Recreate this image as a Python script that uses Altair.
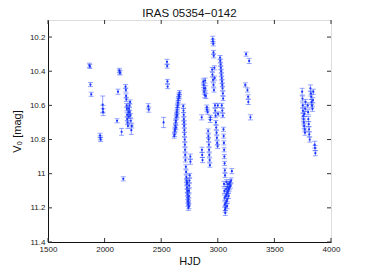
import altair as alt
import pandas as pd

hjd = [
    1866, 1870, 1875, 1882,
    1960, 1962, 1965, 1983, 1985, 1987,
    2110, 2118, 2130, 2133, 2136, 2150, 2165,
    2185, 2188, 2190, 2192, 2195, 2197, 2199, 2200, 2203, 2206,
    2210, 2213, 2216, 2220, 2222, 2225, 2228, 2232, 2236, 2240,
    2386, 2390, 2521, 2551, 2553, 2555, 2557,
    2615, 2618, 2620, 2622, 2625, 2628, 2630, 2633, 2636, 2638, 2641,
    2643, 2646, 2648, 2650, 2653, 2656, 2659, 2662, 2660, 2640, 2630,
    2695, 2697, 2699, 2700, 2702, 2703, 2705, 2706, 2708, 2709, 2711,
    2712, 2714, 2718, 2720, 2722, 2724, 2726, 2728, 2730, 2732, 2734,
    2736, 2738, 2740, 2742, 2744, 2746, 2748, 2750, 2752, 2735, 2729,
    2741, 2745, 2757, 2758,
    2858, 2860, 2862, 2865, 2872, 2875, 2878, 2880, 2884, 2888, 2890,
    2895, 2903, 2905, 2910, 2915, 2917, 2919, 2921, 2923, 2925, 2928,
    2930, 2933, 2935,
    2955, 2957, 2960, 2962, 2964, 2950, 2953, 2958, 2962, 2966, 2970,
    2972, 2975, 2977, 2980, 2983, 2986, 2989, 2992, 2995, 2998, 3000, 3003,
    3020, 3022, 3025, 3027, 3030, 3032, 3035, 3037, 3040, 3042, 3045,
    3047, 3035, 3040, 3044, 3050, 3052, 3054, 3056, 3058, 3060, 3062, 3064,
    3055, 3058, 3060, 3062, 3064, 3066, 3068, 3070, 3072, 3074, 3076,
    3078, 3080, 3082, 3084, 3086, 3088, 3090, 3092, 3095, 3098, 3100,
    3104, 3108, 3112, 3118, 3124,
    3243, 3250, 3262, 3268, 3270, 3277, 3288,
    3745, 3748, 3750, 3752, 3755, 3758, 3760, 3763, 3765, 3768, 3770,
    3772, 3775, 3795, 3798, 3800, 3803, 3806, 3808, 3812, 3818, 3822,
    3825, 3828, 3832, 3836, 3840, 3844, 3856, 3859, 3862,
]

mag = [
    10.365, 10.372, 10.478, 10.535,
    10.775, 10.79, 10.80, 10.595, 10.62, 10.64,
    10.69, 10.52, 10.395, 10.405, 10.41, 10.755, 11.03,
    10.49, 10.51, 10.545, 10.565, 10.60, 10.62, 10.655, 10.68, 10.70, 10.72,
    10.64, 10.665, 10.62, 10.60, 10.64, 10.58, 10.66, 10.69, 10.745, 10.72,
    10.605, 10.625, 10.70, 10.345, 10.37, 10.46, 10.49,
    10.78, 10.77, 10.75, 10.74, 10.72, 10.70, 10.69, 10.67, 10.655, 10.64, 10.625,
    10.61, 10.60, 10.585, 10.57, 10.56, 10.545, 10.535, 10.525, 10.55, 10.66, 10.73,
    10.605, 10.63, 10.655, 10.68, 10.70, 10.72, 10.745, 10.77, 10.80, 10.83, 10.86,
    10.89, 10.92, 10.96, 10.99, 11.02, 11.04, 11.06, 11.08, 11.10, 11.12, 11.14,
    11.16, 11.18, 11.20, 11.17, 11.13, 11.10, 11.07, 11.04, 11.01, 11.10, 11.05,
    11.15, 11.19, 10.90, 10.93,
    10.67, 10.86, 10.89, 10.92, 10.46, 10.48, 10.50, 10.52, 10.54, 10.455, 10.50,
    10.545, 10.61, 10.625, 10.64, 10.75, 10.78, 10.80, 10.83, 10.86, 10.89, 10.92,
    10.95, 10.685, 10.67,
    10.21, 10.225, 10.24, 10.29, 10.31, 10.39, 10.42, 10.45, 10.48, 10.51, 10.38,
    10.44, 10.60, 10.63, 10.66, 10.70, 10.73, 10.76, 10.79, 10.82, 10.84, 10.60, 10.65,
    10.32, 10.34, 10.36, 10.38, 10.40, 10.42, 10.44, 10.46, 10.48, 10.50, 10.53,
    10.56, 10.60, 10.63, 10.66, 10.74, 10.78, 10.82, 10.86, 10.90, 10.94, 10.98, 11.01,
    11.06, 11.10, 11.14, 11.18, 11.21, 11.23, 11.20, 11.17, 11.13, 11.09, 11.05,
    11.12, 11.16, 11.19, 11.15, 11.11, 11.08, 11.06, 11.10, 11.13, 11.09, 11.06,
    11.08, 11.05, 11.07, 11.04, 10.985,
    10.48, 10.30, 10.51, 10.55, 10.58, 10.34, 10.67,
    10.52, 10.56, 10.60, 10.63, 10.66, 10.68, 10.70, 10.72, 10.65, 10.74, 10.76,
    10.62, 10.58, 10.60, 10.64, 10.68, 10.71, 10.74, 10.77, 10.80, 10.50, 10.53,
    10.55, 10.58, 10.60, 10.62, 10.57, 10.52, 10.83, 10.85, 10.88,
]

err = [
    0.012, 0.012, 0.012, 0.012,
    0.012, 0.012, 0.012, 0.05, 0.02, 0.02,
    0.012, 0.015, 0.012, 0.012, 0.012, 0.02, 0.012,
    0.012, 0.012, 0.012, 0.012, 0.012, 0.012, 0.012, 0.012, 0.012, 0.015,
    0.012, 0.012, 0.012, 0.012, 0.012, 0.012, 0.012, 0.012, 0.025, 0.012,
    0.015, 0.015, 0.03, 0.015, 0.012, 0.012, 0.012,
    0.012, 0.012, 0.012, 0.012, 0.012, 0.012, 0.012, 0.012, 0.012, 0.012, 0.012,
    0.012, 0.012, 0.012, 0.012, 0.012, 0.012, 0.012, 0.012, 0.012, 0.012, 0.012,
    0.012, 0.012, 0.012, 0.012, 0.012, 0.012, 0.012, 0.012, 0.012, 0.012, 0.012,
    0.012, 0.012, 0.012, 0.012, 0.012, 0.012, 0.012, 0.012, 0.012, 0.012, 0.012,
    0.012, 0.012, 0.015, 0.012, 0.012, 0.012, 0.012, 0.012, 0.012, 0.012, 0.012,
    0.012, 0.015, 0.015, 0.015,
    0.015, 0.015, 0.015, 0.015, 0.015, 0.015, 0.015, 0.015, 0.015, 0.015, 0.015,
    0.015, 0.012, 0.012, 0.012, 0.012, 0.012, 0.012, 0.012, 0.012, 0.012, 0.012,
    0.012, 0.015, 0.012,
    0.015, 0.012, 0.012, 0.012, 0.012, 0.012, 0.012, 0.012, 0.012, 0.012, 0.012,
    0.012, 0.012, 0.012, 0.012, 0.012, 0.012, 0.012, 0.012, 0.012, 0.012, 0.012, 0.012,
    0.012, 0.012, 0.012, 0.012, 0.012, 0.012, 0.012, 0.012, 0.012, 0.012, 0.012,
    0.012, 0.012, 0.012, 0.012, 0.012, 0.012, 0.012, 0.012, 0.012, 0.012, 0.012, 0.012,
    0.015, 0.015, 0.015, 0.015, 0.015, 0.015, 0.015, 0.015, 0.015, 0.015, 0.015,
    0.015, 0.015, 0.015, 0.015, 0.015, 0.015, 0.015, 0.015, 0.015, 0.015, 0.015,
    0.015, 0.015, 0.015, 0.015, 0.015,
    0.012, 0.012, 0.012, 0.012, 0.015, 0.015, 0.015,
    0.02, 0.015, 0.015, 0.015, 0.015, 0.015, 0.015, 0.015, 0.015, 0.015, 0.015,
    0.015, 0.015, 0.015, 0.015, 0.015, 0.015, 0.015, 0.015, 0.015, 0.02, 0.015,
    0.015, 0.015, 0.015, 0.015, 0.015, 0.015, 0.02, 0.015, 0.015,
]

x_ticks = [1500, 2000, 2500, 3000, 3500, 4000]
y_ticks = [10.2, 10.4, 10.6, 10.8, 11.0, 11.2, 11.4]

df = pd.DataFrame({"hjd": hjd, "mag": mag, "err": err})
df["lo"] = df["mag"] - df["err"]
df["hi"] = df["mag"] + df["err"]

W, H = 283, 222
FONT = "Liberation Sans"
BLUE = "#3350ff"

xs = alt.Scale(domain=[1500, 4000], nice=False, zero=False)
ys = alt.Scale(domain=[10.1, 11.4], reverse=True, nice=False, zero=False)

xax = alt.Axis(values=x_ticks, format="d", title="HJD", grid=False, ticks=False,
               labelFontSize=8, titleFontSize=11, titleFont=FONT, labelFont=FONT,
               labelColor="#222", titleColor="#111", titlePadding=2, labelPadding=3,
               domainColor="#111", labelFlush=False, labelOverlap=False,
               titleFontWeight="normal")
yax = alt.Axis(values=y_ticks, labelExpr="format(datum.value, '~g')", title="V\u2080 [mag]",
               grid=False, ticks=False, labelFontSize=8, titleFontSize=11, titleFont=FONT,
               labelFont=FONT, labelColor="#222", titleColor="#111", titlePadding=7,
               labelPadding=3, domainColor="#111", titleFontWeight="normal",
               labelOverlap=False, labelFlush=False)

base = alt.Chart(df)

bars = base.mark_rule(color=BLUE, opacity=0.55, strokeWidth=1).encode(
    x=alt.X("hjd:Q", scale=xs, axis=xax),
    y=alt.Y("lo:Q", scale=ys, axis=yax),
    y2="hi:Q",
)
cap_lo = base.mark_tick(color=BLUE, opacity=0.5, orient="horizontal", size=5, thickness=1).encode(
    x=alt.X("hjd:Q", scale=xs, axis=xax), y=alt.Y("lo:Q", scale=ys, axis=yax))
cap_hi = base.mark_tick(color=BLUE, opacity=0.5, orient="horizontal", size=5, thickness=1).encode(
    x=alt.X("hjd:Q", scale=xs, axis=xax), y=alt.Y("hi:Q", scale=ys, axis=yax))
pts = base.mark_circle(color="#1a35ff", size=5, opacity=1).encode(
    x=alt.X("hjd:Q", scale=xs, axis=xax), y=alt.Y("mag:Q", scale=ys, axis=yax))

xt = pd.DataFrame({"t": x_ticks})
yt = pd.DataFrame({"t": y_ticks})
tick_col = "#333"
xb = alt.Chart(xt).mark_rule(color=tick_col).encode(
    x=alt.X("t:Q", scale=xs, axis=xax), y=alt.value(H), y2=alt.value(H - 4))
xtop = alt.Chart(xt).mark_rule(color=tick_col).encode(
    x=alt.X("t:Q", scale=xs, axis=xax), y=alt.value(0), y2=alt.value(4))
yl = alt.Chart(yt).mark_rule(color=tick_col).encode(
    y=alt.Y("t:Q", scale=ys, axis=yax), x=alt.value(0), x2=alt.value(4))
yr = alt.Chart(yt).mark_rule(color=tick_col).encode(
    y=alt.Y("t:Q", scale=ys, axis=yax), x=alt.value(W - 4), x2=alt.value(W))

chart = alt.layer(bars, cap_lo, cap_hi, pts, xb, xtop, yl, yr).properties(
    width=W, height=H,
    title=alt.Title("IRAS 05354\u22120142", fontSize=11.5, font=FONT, fontWeight="normal",
                    color="#111", offset=0),
    autosize=alt.AutoSizeParams(type="none"),
    padding={"left": 40, "top": 12, "right": 27, "bottom": 25},
).configure_view(stroke="#888", strokeWidth=1).configure_axis(
    labelOverlap=False
).configure(background="white")

chart.save("out.html", embed_options={"renderer": "svg", "actions": False})
